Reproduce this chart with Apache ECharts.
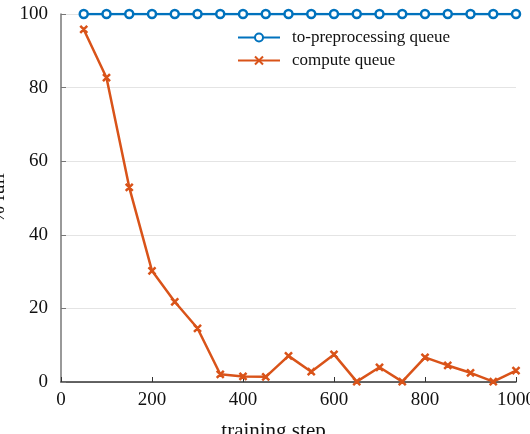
<!DOCTYPE html>
<html><head><meta charset="utf-8">
<script src="https://cdn.jsdelivr.net/npm/echarts@6/dist/echarts.min.js"></script>
<style>html,body{margin:0;padding:0;background:#fff}#c{width:530px;height:434px}</style>
</head><body><div id="c"></div>
<script>
const steps = [50,100,150,200,250,300,350,400,450,500,550,600,650,700,750,800,850,900,950,1000];
const preprocessQueue = [100,100,100,100,100,100,100,100,100,100,100,100,100,100,100,100,100,100,100,100];
const computeQueue = [95.8,82.7,52.9,30.2,21.8,14.6,2.1,1.5,1.4,7.1,2.8,7.5,0.1,4.0,0.1,6.7,4.5,2.5,0.1,3.1];
const seriesNames = ['to-preprocessing queue','compute queue'];
const xName = 'training step';
const yName = '% full';

const font = 'Liberation Serif';
const xMark = 'path://M0,0 L10,10 M10,0 L0,10 M0,0 L10,10 Z M10,0 L0,10 Z';
const chart = echarts.init(document.getElementById('c'));
chart.setOption({
  animation:false,
  textStyle:{fontFamily:font},
  grid:{left:61,right:14,top:14,bottom:52,containLabel:false,outerBoundsMode:'none'},
  legend:{
    orient:'vertical', left:232, top:24, itemWidth:42, itemHeight:10, itemGap:6,
    textStyle:{fontFamily:font,fontSize:17,color:'#111',padding:[0,0,0,7]},
    data:seriesNames
  },
  xAxis:{
    type:'value', min:0, max:1000, interval:200,
    name:xName, nameLocation:'middle', nameGap:39,
    nameTextStyle:{fontFamily:font,fontSize:21,color:'#111',padding:[0,30,0,0]},
    axisLine:{show:true,lineStyle:{color:'#333',width:1.5}},
    axisTick:{show:true,inside:true,length:5,lineStyle:{color:'#333'}},
    axisLabel:{fontFamily:font,fontSize:19,color:'#111',margin:9,formatter:v=>String(v)},
    splitLine:{show:false}
  },
  yAxis:{
    type:'value', min:0, max:100, interval:20,
    name:yName, nameLocation:'middle', nameGap:41,
    nameTextStyle:{fontFamily:font,fontSize:20,color:'#111'},
    axisLine:{show:true,lineStyle:{color:'#777',width:1.5}},
    axisTick:{show:true,inside:true,length:5,lineStyle:{color:'#777'}},
    axisLabel:{fontFamily:font,fontSize:19,color:'#111',margin:13},
    splitLine:{show:true,lineStyle:{color:'#e4e4e4',width:1}}
  },
  series:[
    {
      name:seriesNames[0], type:'line',
      data:steps.map((s,i)=>[s,preprocessQueue[i]]),
      lineStyle:{color:'#0072BD',width:2.5},
      itemStyle:{color:'#fff',borderColor:'#0072BD',borderWidth:2.5},
      symbol:'circle', symbolSize:8, showAllSymbol:true, z:3
    },
    {
      name:seriesNames[1], type:'line',
      data:steps.map((s,i)=>[s,computeQueue[i]]),
      lineStyle:{color:'#D95319',width:2.5},
      itemStyle:{color:'#D95319',borderColor:'#D95319',borderWidth:2.5},
      symbol:xMark, symbolSize:7, showAllSymbol:true, z:2
    }
  ]
});
</script></body></html>
